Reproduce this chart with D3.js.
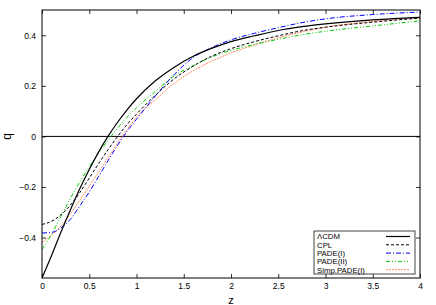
<!DOCTYPE html>
<html>
<head>
<meta charset="utf-8">
<script src="https://d3js.org/d3.v7.min.js"></script>
<style>
  body { margin: 0; background: #fff; }
  svg { display: block; font-family: "Liberation Sans", Arial, sans-serif; }
</style>
</head>
<body>
<svg id="chart" width="436" height="305"></svg>
<script>
// redshift grid the curves were read at
var zVals = [0, 0.1, 0.2, 0.3, 0.4, 0.5, 0.6, 0.7, 0.8, 0.9, 1.0,
             1.2, 1.4, 1.6, 1.8, 2.0, 2.25, 2.5, 2.75, 3.0, 3.5, 4.0];

var qLCDM  = [-0.56, -0.472, -0.379, -0.291, -0.207, -0.131, -0.061, 0.001, 0.056, 0.105, 0.149,
              0.22, 0.274, 0.317, 0.349, 0.375, 0.398, 0.419, 0.434, 0.445, 0.461, 0.471];
var qCPL   = [-0.348, -0.336, -0.31, -0.272, -0.222, -0.165, -0.107, -0.052, 0.0, 0.047, 0.088,
              0.163, 0.228, 0.278, 0.318, 0.347, 0.375, 0.398, 0.418, 0.432, 0.452, 0.468];
var qPade1 = [-0.382, -0.38, -0.362, -0.328, -0.275, -0.22, -0.158, -0.095, -0.035, 0.02, 0.068,
              0.16, 0.245, 0.312, 0.352, 0.382, 0.408, 0.43, 0.45, 0.465, 0.482, 0.492];
var qPade2 = [-0.447, -0.388, -0.316, -0.245, -0.18, -0.12, -0.065, -0.015, 0.033, 0.076, 0.113,
              0.178, 0.24, 0.28, 0.315, 0.34, 0.364, 0.384, 0.402, 0.416, 0.437, 0.457];
var qSimp  = [-0.42, -0.39, -0.355, -0.307, -0.252, -0.197, -0.14, -0.083, -0.027, 0.027, 0.076,
              0.145, 0.21, 0.26, 0.298, 0.33, 0.362, 0.39, 0.413, 0.432, 0.455, 0.47];

var seriesNames = ["\u039bCDM", "CPL", "PADE(I)", "PADE(II)", "Simp.PADE(I)"];
var seriesVals = [qLCDM, qCPL, qPade1, qPade2, qSimp];

var xTicks = [0, 0.5, 1, 1.5, 2, 2.5, 3, 3.5, 4];
var yTicks = [-0.4, -0.2, 0, 0.2, 0.4];

// line looks
var colors = ["#000000", "#000000", "#0000ff", "#00cc00", "#ff8a5c"];
var dashes = [null, "3,2", "5,2,1,2", "4,2,1,2,1,2", "2,1"];
var widths = [1.2, 1, 1, 1, 1];

var margin = {top: 10, right: 16, bottom: 27, left: 42};
var width = 436 - margin.left - margin.right;
var height = 305 - margin.top - margin.bottom;

var x = d3.scaleLinear().domain([0, 4]).range([0, width]);
var y = d3.scaleLinear().domain([-0.56, 0.5]).range([height, 0]);

var svg = d3.select("#chart");
var g = svg.append("g")
  .attr("transform", "translate(" + margin.left + "," + margin.top + ")");

svg.append("defs").append("clipPath").attr("id", "clip")
  .append("rect").attr("width", width).attr("height", height);

// axes, gnuplot style: ticks pointing inside, mirrored
var fmt = function(d){ return d3.format("")(+d.toFixed(1)); };

var xb = g.append("g")
  .attr("transform", "translate(0," + height + ")")
  .call(d3.axisBottom(x).tickValues(xTicks).tickSize(-4).tickPadding(5).tickFormat(fmt));
var xt = g.append("g")
  .call(d3.axisTop(x).tickValues(xTicks).tickSize(-4).tickFormat(""));
var yl = g.append("g")
  .call(d3.axisLeft(y).tickValues(yTicks).tickSize(-4).tickPadding(6).tickFormat(fmt));
var yr = g.append("g")
  .attr("transform", "translate(" + width + ",0)")
  .call(d3.axisRight(y).tickValues(yTicks).tickSize(-4).tickFormat(""));

[xb, xt, yl, yr].forEach(function(a){
  a.select(".domain").remove();
  a.selectAll("line").attr("stroke", "#333");
  a.selectAll("text").style("font-size", "8.5px").attr("fill", "#000");
});

// zero line
g.append("line")
  .attr("x1", 0).attr("x2", width)
  .attr("y1", y(0)).attr("y2", y(0))
  .attr("stroke", "#000").attr("stroke-width", 1);

var line = d3.line()
  .x(function(d){ return x(d[0]); })
  .y(function(d){ return y(d[1]); })
  .curve(d3.curveMonotoneX);

// draw order: back to front
[4, 3, 2, 1, 0].forEach(function(i){
  var pts = zVals.map(function(z, j){ return [z, seriesVals[i][j]]; });
  g.append("path")
    .datum(pts)
    .attr("clip-path", "url(#clip)")
    .attr("d", line)
    .attr("fill", "none")
    .attr("stroke", colors[i])
    .attr("stroke-width", widths[i])
    .attr("stroke-dasharray", dashes[i]);
});

// border
g.append("rect")
  .attr("width", width).attr("height", height)
  .attr("fill", "none").attr("stroke", "#000").attr("stroke-width", 1);

// axis titles
svg.append("text")
  .attr("x", margin.left + width / 2).attr("y", 304)
  .attr("text-anchor", "middle")
  .style("font-size", "11px")
  .text("z");

svg.append("text")
  .attr("transform", "translate(11," + (margin.top + y(0)) + ") rotate(-90)")
  .attr("text-anchor", "middle")
  .style("font-size", "12px")
  .text("q");

// legend
var lg = g.append("g")
  .attr("transform", "translate(" + (width - 106) + "," + (height - 47) + ")");

lg.append("rect")
  .attr("x", 0).attr("y", 0)
  .attr("width", 101).attr("height", 43)
  .attr("fill", "#fff").attr("stroke", "#444").attr("stroke-width", 1);

seriesNames.forEach(function(name, i){
  var yy = 5.5 + i * 8.3;
  lg.append("text")
    .attr("x", 3).attr("y", yy + 2.8)
    .style("font-size", "7.8px")
    .text(name);
  lg.append("line")
    .attr("x1", 72).attr("x2", 96)
    .attr("y1", yy).attr("y2", yy)
    .attr("stroke", colors[i])
    .attr("stroke-width", widths[i])
    .attr("stroke-dasharray", dashes[i]);
});
</script>
</body>
</html>
